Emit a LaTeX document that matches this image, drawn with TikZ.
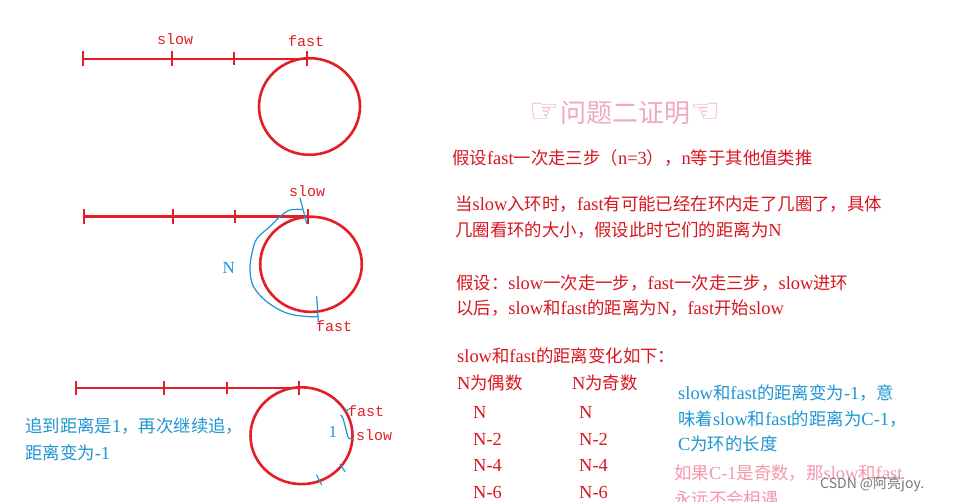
\documentclass[tikz,border=0pt]{standalone}
\usepackage{fontspec}
\setmainfont{Liberation Serif}[Scale=1.06]
\newfontfamily\zhfont{Noto Sans CJK SC}
\newfontfamily\handfont{DejaVu Sans}[Scale=1.3]
\newfontfamily\labfont{Liberation Mono}
\newcommand{\zh}[1]{{\zhfont #1}}
\definecolor{penred}{RGB}{228,30,38}
\definecolor{penblue}{RGB}{30,150,210}
\definecolor{penpink}{RGB}{242,168,192}
\definecolor{notered}{RGB}{215,22,32}
\definecolor{markgray}{RGB}{120,120,120}
\tikzset{
    track/.style={penred,line width=2.8pt},
    tickline/.style={penred,line width=1.5pt},
    ring/.style={penred,line width=2.6pt},
    pen/.style={penblue,line width=1.2pt,line cap=round,line join=round},
    lab/.style={penred,inner sep=0,anchor=base west,font=\labfont\fontsize{15}{17}\selectfont},
    note/.style={notered,inner sep=0,anchor=base west,font=\fontsize{17.4}{20}\selectfont},
    bluenote/.style={note,penblue},
    pinknote/.style={note,penpink!90!red}
}
\begin{document}
\begin{tikzpicture}[x=1pt,y=-1pt]
                \clip (0,0) rectangle (972,501);
                \fill[white] (0,0) rectangle (972,501);
                \draw[track] (83,59) -- (307,59);
                \draw[tickline] (83,51) -- (83,66) (172,51) -- (172,66) (234,52) -- (234,65) (307,51) -- (307,66);
                \draw[ring] (309.5,106.5) ellipse (50.5 and 48.3);
                \node[lab] (slowa) at (157,44) {slow};
                \node[lab] (fasta) at (288,46) {fast};

                \draw[track] (84,216.5) -- (308,216.5);
                \draw[tickline] (84,209) -- (84,224) (173,209) -- (173,224) (235,210) -- (235,223) (308,209) -- (308,224);
                \draw[ring] (311,264.3) ellipse (50.8 and 47.6);
                \node[lab] (slowb) at (289,196.5) {slow};
                \node[lab] (fastb) at (316,331) {fast};
                \draw[pen] (300,198) -- (306.7,223.3);
                \draw[pen] plot[smooth,tension=0.6] coordinates {(302,209.5) (290,210) (280,216.5) (270,226.5) (257,238.5) (252,253) (250,270) (253.5,286.5) (266.5,301.5) (286.5,313) (306.5,316.5) (318,316.5)};
                \draw[pen] (316.7,296.7) -- (318.3,321.7);
                \node[bluenote,font=\fontsize{16}{18}\selectfont] (gapn) at (222.5,273) {N};

                \draw[track] (76,388) -- (300,388);
                \draw[tickline] (76,381) -- (76,395) (164,381) -- (164,395) (227,382) -- (227,394) (299,381) -- (299,395);
                \draw[ring] (301.5,435.7) ellipse (51 and 48.4);
                \node[lab] (fastc) at (348,416) {fast};
                \node[lab] (slowc) at (356,440) {slow};
                \draw[pen] plot[smooth,tension=0.5] coordinates {(340.7,415) (343,418.5) (346.5,431.5) (348.5,438) (353.5,439.3)};
                \draw[pen] (345,412) -- (348.5,409.5);
                \draw[pen] (340,464) -- (345,471.7);
                \draw[pen] (316.7,475) -- (321.7,485);
                \node[bluenote,font=\fontsize{16}{18}\selectfont] (gapone) at (328.5,437.5) {1};
                \node[bluenote] (catcha) at (25,432) {\zh{追到距离是}1\zh{，再次继续追，}};
                \node[bluenote] (catchb) at (25,459) {\zh{距离变为}-1};

                \node[penpink,inner sep=0,font=\fontsize{26}{28}\selectfont] (title) at (625,113) {{\handfont ☞}\zh{问题二证明}{\handfont ☜}};
                \node[note] (linea) at (452,164.5) {\zh{假设}fast\zh{一次走三步（}n=3\zh{），}n\zh{等于其他值类推}};
                \node[note] (lineb) at (455,210) {\zh{当}slow\zh{入环时，}fast\zh{有可能已经在环内走了几圈了，具体}};
                \node[note] (linec) at (455,236) {\zh{几圈看环的大小，假设此时它们的距离为}N};
                \node[note] (lined) at (456,289) {\zh{假设：}slow\zh{一次走一步，}fast\zh{一次走三步，}slow\zh{进环}};
                \node[note] (linee) at (456,314) {\zh{以后，}slow\zh{和}fast\zh{的距离为}N\zh{，}fast\zh{开始}slow};
                \node[note] (linef) at (457,362) {slow\zh{和}fast\zh{的距离变化如下：}};
                \node[note] (evenhead) at (457,389) {N\zh{为偶数}};
                \node[note] (oddhead) at (572,389) {N\zh{为奇数}};
                \node[note] (evena) at (473,418) {N};
                \node[note] (evenb) at (473,445) {N-2};
                \node[note] (evenc) at (473,471) {N-4};
                \node[note] (evend) at (473,498) {N-6};
                \node[note] (odda) at (579,418) {N};
                \node[note] (oddb) at (579,445) {N-2};
                \node[note] (oddc) at (579,471) {N-4};
                \node[note] (oddd) at (579,498) {N-6};
                \node[bluenote] (meana) at (678,399) {slow\zh{和}fast\zh{的距离变为}-1\zh{，意}};
                \node[bluenote] (meanb) at (678,425) {\zh{味着}slow\zh{和}fast\zh{的距离为}C-1\zh{，}};
                \node[bluenote] (meanc) at (678,450) {C\zh{为环的长度}};
                \node[pinknote] (pinka) at (674,479) {\zh{如果}C-1\zh{是奇数，那}slow\zh{和}fast};
                \node[pinknote] (pinkb) at (674,505) {\zh{永远不会相遇}};
                \node[markgray,inner sep=0,anchor=base west,font=\zhfont\fontsize{14}{16}\selectfont] (stamp) at (820,488) {CSDN @阿亮joy.};

                \end{tikzpicture}
\end{document}
